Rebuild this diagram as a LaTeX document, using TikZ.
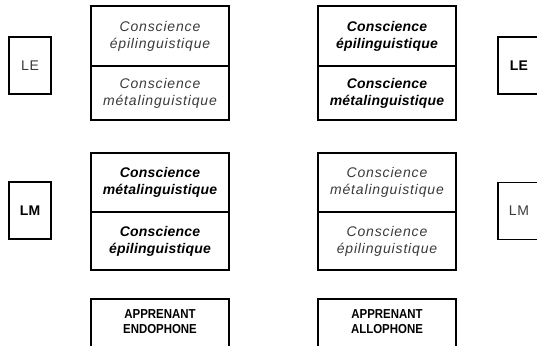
\documentclass[tikz,border=0pt]{standalone}
\usepackage{fontspec}
\setmainfont{Liberation Sans}
\newfontfamily\lsp[LetterSpace=6]{Liberation Sans}
\newfontfamily\lspb[LetterSpace=1.5]{Liberation Sans}
\newfontfamily\cond[FakeStretch=0.88]{Liberation Sans}
\definecolor{txtgrey}{HTML}{3A3A3A}
\tikzset{
  cell/.style={draw, line width=1.5pt, minimum width=138pt, inner sep=0pt, outer sep=0pt, align=center},
  lite/.style={font=\lsp\itshape\fontsize{14}{17}\selectfont, text=txtgrey},
  heavy/.style={font=\lspb\bfseries\itshape\fontsize{14}{17}\selectfont, text=black},
  tag/.style={draw, line width=1.5pt, minimum width=42pt, minimum height=57pt, inner sep=0pt, outer sep=0pt},
  tagplain/.style={font=\lsp\fontsize{14}{17}\selectfont, text=txtgrey},
  tagbold/.style={font=\lspb\bfseries\fontsize{14}{17}\selectfont, text=black},
  bottombox/.style={draw, line width=1.5pt, minimum width=138pt, minimum height=52pt, inner sep=0pt, outer sep=0pt},
  captxt/.style={font=\cond\bfseries\fontsize{13}{15}\selectfont, align=center, inner sep=0pt, text=black}
}
\begin{document}
\begin{tikzpicture}[x=1pt,y=-1pt]
\useasboundingbox (0,0) rectangle (537,345);
\clip (0,0) rectangle (537,345);
% top row
\node[cell, lite, minimum height=60pt] (a1) at (160,36) {Conscience\\épilinguistique};
\node[cell, lite, minimum height=54pt] (a2) at (160,93) {Conscience\\métalinguistique};
\node[cell, heavy, minimum height=60pt] (b1) at (387,36) {Conscience\\épilinguistique};
\node[cell, heavy, minimum height=54pt] (b2) at (387,93) {Conscience\\métalinguistique};
\node[tag, tagplain] (le1) at (30,65.5) {LE};
\node[tag, tagbold] (le2) at (519,65.5) {LE};
% middle row
\node[cell, heavy, minimum height=59pt] (c1) at (160,182.5) {Conscience\\métalinguistique};
\node[cell, heavy, minimum height=58pt] (c2) at (160,241) {Conscience\\épilinguistique};
\node[cell, lite, minimum height=59pt] (d1) at (387,182.5) {Conscience\\métalinguistique};
\node[cell, lite, minimum height=58pt] (d2) at (387,241) {Conscience\\épilinguistique};
\node[tag, tagbold] (lm1) at (30,210.5) {LM};
\node[tag, tagplain] (lm2) at (519,211) {LM};
% bottom row
\node[bottombox] (e1) at (160,325) {};
\node[captxt, anchor=north] (e1t) at ([yshift=-10pt]e1.north) {APPRENANT\\ENDOPHONE};
\node[bottombox] (f1) at (387,325) {};
\node[captxt, anchor=north] (f1t) at ([yshift=-10pt]f1.north) {APPRENANT\\ALLOPHONE};
\end{tikzpicture}
\end{document}
